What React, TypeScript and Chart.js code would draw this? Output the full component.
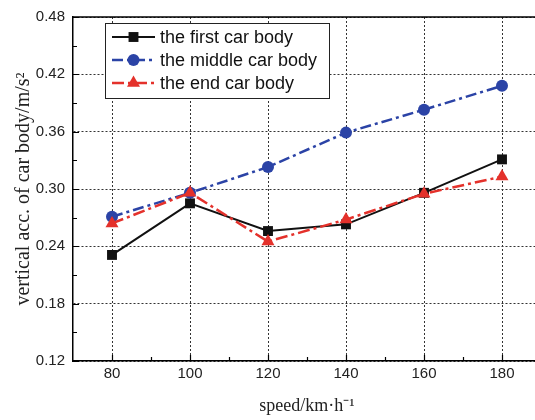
import React, { useEffect, useRef } from "react";
import { Chart, registerables } from "chart.js";
Chart.register(...registerables);

const speeds = [80, 100, 120, 140, 160, 180];
const firstCar = [0.231, 0.285, 0.256, 0.263, 0.296, 0.331];
const middleCar = [0.271, 0.296, 0.323, 0.359, 0.383, 0.408];
const endCar = [0.264, 0.296, 0.245, 0.268, 0.295, 0.313];
const seriesLabels = ["the first car body", "the middle car body", "the end car body"];
const xTicks = [80, 100, 120, 140, 160, 180];
const yTicks = [0.12, 0.18, 0.24, 0.3, 0.36, 0.42, 0.48];
const xMinor = [90, 110, 130, 150, 170];
const yMinor = [0.15, 0.21, 0.27, 0.33, 0.39, 0.45];

const BLACK = "#111111";
const BLUE = "#2b43a6";
const RED = "#e4312b";

function drawMarker(ctx: CanvasRenderingContext2D, style: string, x: number, y: number, r: number, color: string) {
  ctx.save();
  ctx.fillStyle = color;
  ctx.setLineDash([]);
  ctx.beginPath();
  if (style === "rect") {
    const s = r * Math.SQRT1_2;
    ctx.rect(x - s, y - s, 2 * s, 2 * s);
  } else if (style === "circle") {
    ctx.arc(x, y, r, 0, Math.PI * 2);
  } else {
    for (let i = 0; i < 3; i++) {
      const a = -Math.PI / 2 + (i * 2 * Math.PI) / 3;
      const px = x + r * Math.cos(a);
      const py = y + r * Math.sin(a);
      if (i === 0) ctx.moveTo(px, py);
      else ctx.lineTo(px, py);
    }
    ctx.closePath();
  }
  ctx.fill();
  ctx.restore();
}

const decorPlugin = {
  id: "decor",
  afterDraw(chart: any) {
    const { ctx, chartArea } = chart;
    const xs = chart.scales.x;
    const ys = chart.scales.y;
    ctx.save();
    // top frame
    ctx.strokeStyle = "#000";
    ctx.lineWidth = 1.5;
    ctx.setLineDash([]);
    ctx.beginPath();
    ctx.moveTo(chartArea.left, chartArea.top);
    ctx.lineTo(chartArea.right, chartArea.top);
    ctx.stroke();
    // inward ticks
    ctx.lineWidth = 1.2;
    ctx.beginPath();
    for (const v of yMinor) {
      const py = Math.round(ys.getPixelForValue(v)) + 0.5;
      ctx.moveTo(chartArea.left, py);
      ctx.lineTo(chartArea.left + 4, py);
    }
    for (const v of yTicks) {
      const py = Math.round(ys.getPixelForValue(v)) + 0.5;
      ctx.moveTo(chartArea.left, py);
      ctx.lineTo(chartArea.left + 6, py);
    }
    for (const v of xMinor) {
      const px = Math.round(xs.getPixelForValue(v)) + 0.5;
      ctx.moveTo(px, chartArea.bottom);
      ctx.lineTo(px, chartArea.bottom - 4);
    }
    for (const v of xTicks) {
      const px = Math.round(xs.getPixelForValue(v)) + 0.5;
      ctx.moveTo(px, chartArea.bottom);
      ctx.lineTo(px, chartArea.bottom - 6);
    }
    ctx.stroke();

    // legend
    const bx = 105, by = 23, bw = 224, bh = 75;
    ctx.fillStyle = "#ffffff";
    ctx.fillRect(bx, by, bw, bh);
    ctx.strokeStyle = "#222";
    ctx.lineWidth = 1;
    ctx.strokeRect(bx + 0.5, by + 0.5, bw, bh);
    const rows = [37, 60, 83];
    chart.data.datasets.forEach((ds: any, i: number) => {
      const y = rows[i];
      ctx.save();
      ctx.strokeStyle = ds.borderColor;
      ctx.lineWidth = ds.borderWidth;
      ctx.setLineDash(ds.borderDash || []);
      ctx.beginPath();
      ctx.moveTo(112, y);
      ctx.lineTo(155, y);
      ctx.stroke();
      ctx.restore();
      drawMarker(ctx, ds.pointStyle, 133.5, y, ds.pointRadius, ds.pointBackgroundColor);
      ctx.fillStyle = "#111";
      ctx.font = "18px 'Liberation Sans', Arial, sans-serif";
      ctx.textBaseline = "middle";
      ctx.textAlign = "left";
      ctx.fillText(ds.label, 160, y + 1);
    });
    ctx.restore();
  },
};

export default function App() {
  const ref = useRef<HTMLCanvasElement | null>(null);
  useEffect(() => {
    if (!ref.current) return;
    const mk = (vals: number[]) => speeds.map((s, i) => ({ x: s, y: vals[i] }));
    const chart = new Chart(ref.current, {
      type: "line",
      data: {
        datasets: [
          {
            label: seriesLabels[0],
            data: mk(firstCar),
            borderColor: BLACK,
            backgroundColor: BLACK,
            pointBackgroundColor: BLACK,
            pointBorderColor: BLACK,
            pointBorderWidth: 0,
            borderWidth: 2,
            pointStyle: "rect",
            pointRadius: 7,
            borderDash: [],
            order: 2,
          },
          {
            label: seriesLabels[1],
            data: mk(middleCar),
            borderColor: BLUE,
            backgroundColor: BLUE,
            pointBackgroundColor: BLUE,
            pointBorderColor: BLUE,
            pointBorderWidth: 0,
            borderWidth: 2.5,
            pointStyle: "circle",
            pointRadius: 6,
            borderDash: [11, 4, 3, 4],
            order: 1,
          },
          {
            label: seriesLabels[2],
            data: mk(endCar),
            borderColor: RED,
            backgroundColor: RED,
            pointBackgroundColor: RED,
            pointBorderColor: RED,
            pointBorderWidth: 0,
            borderWidth: 2.5,
            pointStyle: "triangle",
            pointRadius: 7.5,
            borderDash: [12, 4, 3, 4],
            order: 0,
          },
        ],
      },
      options: {
        animation: false,
        responsive: false,
        events: [],
        layout: { padding: { left: 0, top: 11, right: 19, bottom: 0 } },
        plugins: { legend: { display: false }, tooltip: { enabled: false } },
        elements: { line: { tension: 0 } },
        scales: {
          x: {
            type: "linear",
            min: 70,
            max: 190,
            afterBuildTicks: (s: any) => {
              s.ticks = xTicks.map((v) => ({ value: v }));
            },
            afterFit: (s: any) => {
              s.height = 59;
            },
            ticks: {
              padding: 4,
              color: "#222",
              font: { family: "'Liberation Sans', Arial, sans-serif", size: 15 },
              maxRotation: 0,
              autoSkip: false,
            },
            grid: { color: "#333", lineWidth: 1, drawTicks: false },
            border: { display: true, color: "#000", width: 1.5, dash: [2, 2] },
            title: {
              display: true,
              text: "speed/km·h⁻¹",
              color: "#222",
              font: { family: "'Liberation Serif', 'Times New Roman', serif", size: 18 },
              padding: { top: 0, bottom: 3 },
            },
          },
          y: {
            type: "linear",
            min: 0.12,
            max: 0.48,
            afterBuildTicks: (s: any) => {
              s.ticks = yTicks.map((v) => ({ value: v }));
            },
            afterFit: (s: any) => {
              s.width = 73;
            },
            ticks: {
              padding: 8,
              color: "#222",
              font: { family: "'Liberation Sans', Arial, sans-serif", size: 15 },
              callback: (v: any) => Number(v).toFixed(2),
            },
            grid: { color: "#333", lineWidth: 1, drawTicks: false },
            border: { display: true, color: "#000", width: 1.5, dash: [2, 2] },
            title: {
              display: true,
              text: "vertical acc. of car body/m/s²",
              color: "#222",
              font: { family: "'Liberation Serif', 'Times New Roman', serif", size: 20 },
              padding: { top: 12, bottom: 0 },
            },
          },
        },
      },
      plugins: [decorPlugin],
    });
    return () => chart.destroy();
  }, []);
  return (
    <div style={{ position: "fixed", left: 0, top: 0, width: 535, height: 420, overflow: "hidden", background: "#fff" }}>
      <canvas ref={ref} width={560} height={420} style={{ display: "block", width: 560, height: 420 }} />
    </div>
  );
}
